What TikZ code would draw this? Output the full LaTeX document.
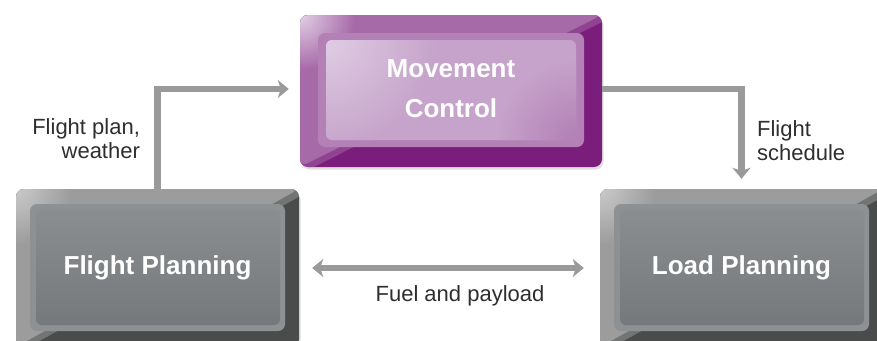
\documentclass[tikz,border=0pt]{standalone}
\usepackage{fontspec}
\setmainfont{Liberation Sans}
\usetikzlibrary{arrows.meta,positioning,shadows}

\definecolor{plumdark}{HTML}{7A1D7B}
\definecolor{plummid}{HTML}{A66AA8}
\definecolor{plumlight}{HTML}{E2CFE5}
\definecolor{plumring}{HTML}{B381B6}
\definecolor{plumfacelo}{HTML}{B17FB4}
\definecolor{plumface}{HTML}{C6A3CA}
\definecolor{plumfacehi}{HTML}{DFCDE3}
\definecolor{slatedark}{HTML}{4A4C4C}
\definecolor{slatemid}{HTML}{9C9C9C}
\definecolor{slatelight}{HTML}{CACACA}
\definecolor{slatering}{HTML}{8D9193}
\definecolor{slatetop}{HTML}{8A8E90}
\definecolor{slatebot}{HTML}{75797B}
\definecolor{pipegrey}{HTML}{9A9A9A}
\definecolor{labelink}{HTML}{2E2E2E}

\newcommand{\panelbox}{path picture bounding box}
% light upper left half over the dark fill, soft along the diagonal
\newcommand{\bevel}[2]{
	\fill[#1, opacity=.5] (\panelbox.north west) -- ([xshift=14pt]\panelbox.north east) -- ([yshift=-7pt]\panelbox.south west) -- cycle;
	\fill[#1] (\panelbox.north west) -- (\panelbox.north east) -- (\panelbox.south west) -- cycle;
	\shade[inner color=#2, outer color=#1] (\panelbox.north west) circle (55pt);
}

\tikzset{
	panel/.style={rectangle, rounded corners=8pt, text=white,
		font=\fontsize{26}{39}\selectfont\bfseries, align=center,
		drop shadow={shadow xshift=1.5pt, shadow yshift=-2.5pt, opacity=.25}},
	plumpanel/.style={panel, fill=plumdark, minimum width=302pt, minimum height=152pt,
		path picture={
			\bevel{plummid}{plumlight}
			\fill[plumring, rounded corners=7pt] ([shift={(18pt,-18pt)}]\panelbox.north west) rectangle ([shift={(-18pt,20pt)}]\panelbox.south east);
			\begin{scope}
				\clip[rounded corners=6pt] ([shift={(26pt,-25pt)}]\panelbox.north west) rectangle ([shift={(-26pt,27pt)}]\panelbox.south east);
				\fill[plumface] (\panelbox.north west) rectangle (\panelbox.south east);
				\shade[inner color=plumfacehi, outer color=plumface] ([shift={(26pt,-25pt)}]\panelbox.north west) circle (110pt);
				\shade[inner color=plumfacelo, outer color=plumface] ([shift={(-26pt,27pt)}]\panelbox.south east) circle (80pt);
			\end{scope}
		}},
	slatepanel/.style={panel, fill=slatedark, minimum width=283pt, minimum height=158pt,
		path picture={
			\bevel{slatemid}{slatelight}
			\fill[slatering, rounded corners=7pt] ([shift={(14pt,-15pt)}]\panelbox.north west) rectangle ([shift={(-14pt,16pt)}]\panelbox.south east);
			\shade[top color=slatetop, bottom color=slatebot, rounded corners=6pt] ([shift={(20pt,-20pt)}]\panelbox.north west) rectangle ([shift={(-19pt,22pt)}]\panelbox.south east);
		}},
	pipe/.style={draw=pipegrey, line width=6.5pt},
	tag/.style={text=labelink, font=\fontsize{22}{24}\selectfont},
	>={Stealth[length=11pt,width=18pt,inset=3pt]}
}

\begin{document}
\begin{tikzpicture}[x=1pt, y=-1pt]
	\useasboundingbox (0,0) rectangle (877,340);
	\clip (0,0) rectangle (877,340);

	\node[plumpanel] (move) at (451,91) {\raisebox{4.5pt}{\shortstack{Movement\\[18pt]Control}}};
	\foreach \n/\x/\t in {fp/157.5/Flight Planning, lp/741.5/Load Planning}
	{
		\node[slatepanel] (\n) at (\x,268) {\t};
	}

	\draw[pipe, ->] (fp.north) |- ([shift={(-11pt,2pt)}]move.west) node[tag, pos=.25, left=11pt, align=right] {Flight plan,\\weather};
	\draw[pipe, ->] ([yshift=2pt]move.east) -| ([yshift=10pt]lp.north) node[tag, pos=.75, right=9pt, yshift=-7pt, align=left] {Flight\\schedule};
	\draw[pipe, <->] ([xshift=13pt]fp.east) -- ([xshift=-16pt]lp.west) node[tag, midway, below=11pt, xshift=12pt] {Fuel and payload};

\end{tikzpicture}
\end{document}
